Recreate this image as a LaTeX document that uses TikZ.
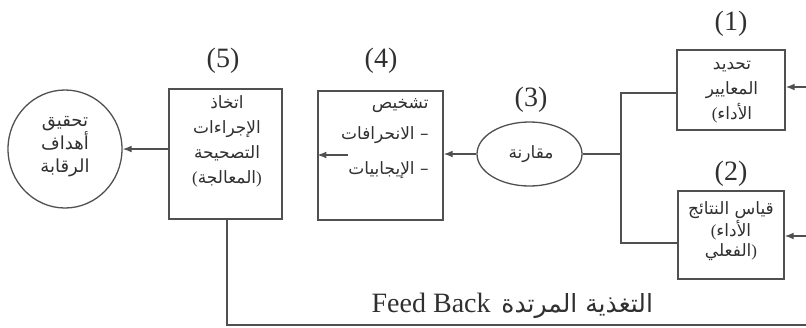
\documentclass[tikz,border=0pt]{standalone}
\usepackage{fontspec}
\setmainfont{Liberation Serif}
\newfontfamily\arabicfont[Script=Arabic]{DejaVu Sans}
\TeXXeTstate=1
\usetikzlibrary{arrows.meta,shapes.geometric}
\newcommand\artext[1]{{\arabicfont\beginR #1\endR}}
\definecolor{ink}{HTML}{505050}
\definecolor{txt}{HTML}{303030}
\def\px{0.5pt}
\tikzset{
  line/.style={draw=ink, line width=0.65pt},
  arr/.style={line, -{Latex[length=4.5pt,width=3.4pt]}},
  boxst/.style={rectangle, line, inner sep=0pt},
  ellst/.style={ellipse, line, inner sep=0pt},
  body/.style={text=txt, font=\fontsize{8.5}{12.5}\selectfont, align=center, inner sep=0pt},
  num/.style={text=txt, font=\fontsize{14}{16}\selectfont, inner sep=0pt},
}
\begin{document}
\begin{tikzpicture}[x=0.5pt,y=-0.5pt]
\useasboundingbox (0,0) rectangle (806,327);

% blocks
\node[ellst, minimum width=114*\px, minimum height=118*\px] (c1) at (65,149) {};
\node[boxst, minimum width=113*\px, minimum height=130*\px] (b5) at (225.5,154) {};
\node[boxst, minimum width=125*\px, minimum height=129*\px] (b4) at (380.5,155.5) {};
\node[ellst, minimum width=105*\px, minimum height=64*\px] (c3) at (529.5,154) {};
\node[boxst, minimum width=108*\px, minimum height=80*\px] (b1) at (731,90) {};
\node[boxst, minimum width=106*\px, minimum height=88*\px] (b2) at (731,235) {};

% texts
\node[body, font=\fontsize{9}{12}\selectfont] (t1) at (65,147) {\artext{تحقيق}\\[-0.5pt]\artext{أهداف}\\[-0.5pt]\artext{الرقابة}};
\node[body] (t5) at (227,141) {\artext{اتخاذ}\\\artext{الإجراءات}\\\artext{التصحيحة}\\(\artext{المعالجة})};
\node[body, align=right, anchor=north east] (t4) at (429,98) {\artext{تشخيص}\\[3pt]\artext{– الانحرافات}\\[5pt]\artext{– الإيجابيات}};
\node[body] (t3) at (531,154) {\artext{مقارنة}};
\node[body] (tb1) at (732,92) {\artext{تحديد}\\\artext{المعايير}\\(\artext{الأداء}};
\node[body, font=\fontsize{8.5}{10}\selectfont] (tb2) at (731,231) {\artext{قياس النتائج}\\(\artext{الأداء}\\\artext{الفعلي})};

% step numbers
\node[num] (n1) at (731,24) {(1)};
\node[num] (n2) at (731,174) {(2)};
\node[num] (n3) at (531,100) {(3)};
\node[num] (n4) at (381,61) {(4)};
\node[num] (n5) at (223,61) {(5)};

% connectors
\coordinate (j1) at (621,93);
\coordinate (j2) at (621,243);
\coordinate (r1) at (806,87);
\coordinate (r2) at (806,236);
\coordinate (in4) at (348,155);
\coordinate (fb) at (227,325);
\coordinate (fbr) at (806,325);

\draw[line] (j1 -| b1.west) -- (j1) -- (j2) -- (j2 -| b2.west);
\draw[line] (c3.east) -- (c3.east -| j1);
\draw[arr] (r1) -- (r1 -| b1.east);
\draw[arr] (r2) -- (r2 -| b2.east);
\draw[arr] (c3.west) -- (c3.west -| b4.east);
\draw[arr] (in4) -- (in4 -| b4.west);
\draw[arr] (c1.east -| b5.west) -- (c1.east);
\draw[line] (fb |- b5.south) -- (fb) -- (fbr);

% feedback label: English words on the left, Arabic on the right
\node[text=txt, font=\fontsize{14}{16}\selectfont, inner sep=0pt, anchor=base east] (fbe) at (491,312) {Feed Back};
\node[text=txt, font=\fontsize{12.5}{15}\selectfont, inner sep=0pt, anchor=base west] (fba) at (501,312) {\artext{التغذية المرتدة}};
\end{tikzpicture}
\end{document}
